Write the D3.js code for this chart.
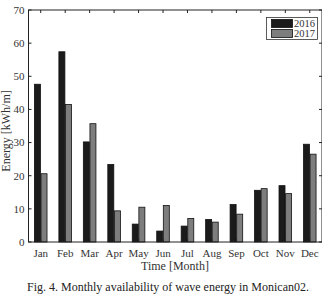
<!DOCTYPE html>
<html>
<head>
<meta charset="utf-8">
<script src="https://cdn.jsdelivr.net/npm/d3@7"></script>
<style>
html,body{margin:0;padding:0;background:#fff;}
svg{display:block;font-family:"Liberation Serif","Times New Roman",serif;}
</style>
</head>
<body>
<svg id="chart" width="322" height="296"></svg>
<script>
const months = ["Jan","Feb","Mar","Apr","May","Jun","Jul","Aug","Sep","Oct","Nov","Dec"];
const seriesNames = ["2016","2017"];
const values2016 = [47.6, 57.4, 30.2, 23.4, 5.4, 3.3, 4.8, 6.8, 11.3, 15.6, 17.0, 29.5];
const values2017 = [20.6, 41.5, 35.7, 9.4, 10.5, 11.0, 7.1, 6.0, 8.4, 16.1, 14.6, 26.5];
const yTicks = [0, 10, 20, 30, 40, 50, 60, 70];
const colors = ["#1b1b1b", "#7d7d7d"];

const svg = d3.select("#chart");
const L = 28.5, R = 322, T = 10, B = 242;

const x = d3.scaleLinear().domain([0.5, 12.5]).range([L, R]);
const y = d3.scaleLinear().domain([0, 70]).range([B, T]);
const barW = 6;

const data = [values2016, values2017];

// bars
data.forEach((vals, s) => {
  svg.append("g").selectAll("rect").data(vals).join("rect")
    .attr("x", (d, i) => x(i + 1) + (s === 0 ? -barW - 0.3 : 0.3))
    .attr("y", d => y(d))
    .attr("width", barW)
    .attr("height", d => y(0) - y(d))
    .attr("fill", colors[s])
    .attr("stroke", "#111")
    .attr("stroke-width", 0.8);
});

// frame
svg.append("rect").attr("x", L).attr("y", T).attr("width", R - L).attr("height", B - T)
  .attr("fill", "none").attr("stroke", "#222").attr("stroke-width", 1);

const tickLen = 3;
const tg = svg.append("g").attr("stroke", "#222").attr("stroke-width", 1);
yTicks.forEach(t => {
  tg.append("line").attr("x1", L).attr("x2", L + tickLen).attr("y1", y(t)).attr("y2", y(t));
  tg.append("line").attr("x1", R).attr("x2", R - tickLen).attr("y1", y(t)).attr("y2", y(t));
});
months.forEach((m, i) => {
  tg.append("line").attr("x1", x(i + 1)).attr("x2", x(i + 1)).attr("y1", T).attr("y2", T + tickLen);
  tg.append("line").attr("x1", x(i + 1)).attr("x2", x(i + 1)).attr("y1", B).attr("y2", B - tickLen);
});

// y tick labels
svg.append("g").selectAll("text").data(yTicks).join("text")
  .attr("x", L - 4).attr("y", d => y(d)).attr("dy", "0.35em")
  .attr("text-anchor", "end").attr("font-size", 11).attr("fill", "#333")
  .text(d => d);

// x tick labels
svg.append("g").selectAll("text").data(months).join("text")
  .attr("x", (d, i) => x(i + 1)).attr("y", 257)
  .attr("text-anchor", "middle").attr("font-size", 11).attr("fill", "#333")
  .text(d => d);

// axis titles
svg.append("text").attr("x", 175).attr("y", 270)
  .attr("text-anchor", "middle").attr("font-size", 12).attr("fill", "#333")
  .text("Time [Month]");
svg.append("text").attr("transform", `translate(10,131) rotate(-90)`)
  .attr("text-anchor", "middle").attr("font-size", 12).attr("fill", "#333")
  .text("Energy [kWh/m]");

// caption
svg.append("text").attr("x", 168).attr("y", 291)
  .attr("text-anchor", "middle").attr("font-size", 12).attr("fill", "#222")
  .text("Fig. 4. Monthly availability of wave energy in Monican02.");

// legend
const lg = svg.append("g");
lg.append("rect").attr("x", 266.5).attr("y", 17.5).attr("width", 51).attr("height", 22)
  .attr("fill", "#fff").attr("stroke", "#333").attr("stroke-width", 0.8);
seriesNames.forEach((n, s) => {
  lg.append("rect").attr("x", 271.5).attr("y", 19.5 + s * 10).attr("width", 21).attr("height", 8)
    .attr("fill", colors[s]).attr("stroke", "#111").attr("stroke-width", 0.8);
  lg.append("text").attr("x", 294).attr("y", 23.5 + s * 10).attr("dy", "0.35em")
    .attr("font-size", 10.5).attr("fill", "#333").text(n);
});
</script>
</body>
</html>
